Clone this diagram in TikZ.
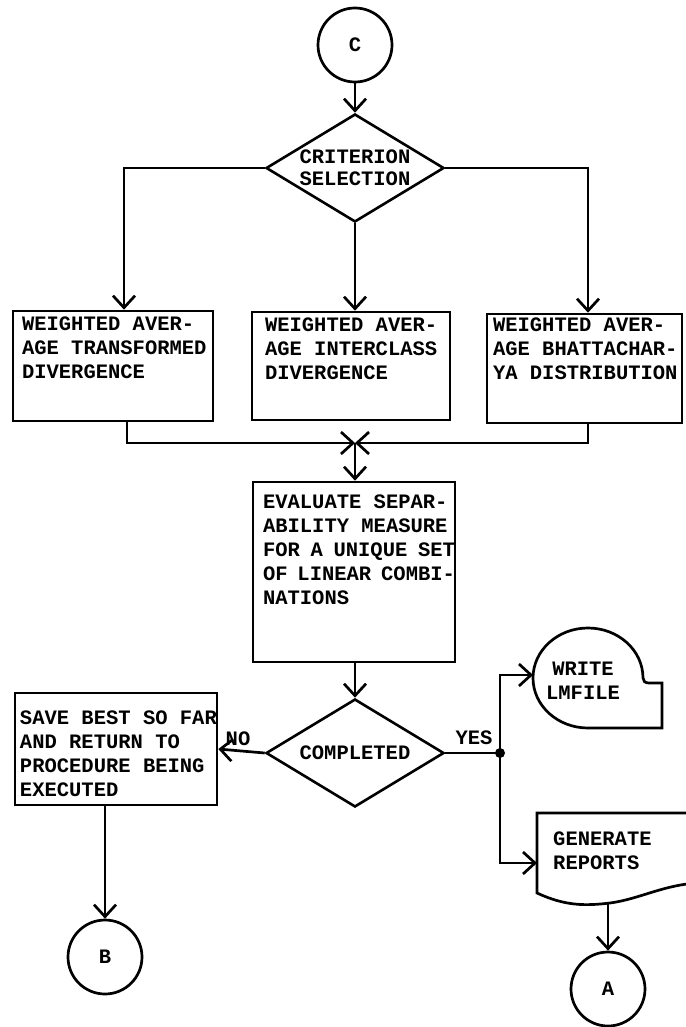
\documentclass[tikz,border=0pt]{standalone}
\usepackage{fontspec}
\newfontfamily\tfont{Liberation Mono}
\usetikzlibrary{shapes.geometric,arrows.meta,calc}
% text block for a process box: width, height, left inset, top inset, lines
\newcommand\boxtext[5]{\parbox[c][#2][t]{#1}{\setlength\baselineskip{24pt}\setlength\leftskip{#3}\vspace*{#4}\noindent #5}}
\begin{document}
\begin{tikzpicture}[x=1pt,y=-1pt,
  every node/.style={font=\tfont\bfseries\fontsize{20.5}{24}\selectfont},
  flow/.style={line width=2.7pt},
  arr/.style={flow,-{Straight Barb[length=12pt,width=22pt]}},
  conn/.style={circle,draw,line width=2.7pt,minimum size=74pt,inner sep=0pt},
  proc/.style={draw,line width=2.6pt,inner sep=0pt},
  decide/.style={diamond,draw,line width=2.6pt,aspect=1.65,minimum width=178pt,
                 minimum height=108pt,inner sep=0pt,align=center,
                 font=\tfont\bfseries\fontsize{20.5}{22}\selectfont},
  lab/.style={inner sep=0pt}]
\useasboundingbox (0,0) rectangle (685,1027);

% connector and decisions
\node[conn] (C) at (355,45) {C};
\node[decide] (crit) at (355,168) {CRITERION\\SELECTION};

% criterion boxes
\node[proc] (lb) at (113,366)
  {\boxtext{200pt}{110pt}{9pt}{6pt}{WEIGHTED AVER-\\AGE TRANSFORMED\\DIVERGENCE}};
\node[proc] (mb) at (351,366)
  {\boxtext{198pt}{108pt}{13pt}{6pt}{WEIGHTED AVER-\\AGE INTERCLASS\\DIVERGENCE}};
\node[proc] (rb) at (584.5,368.5)
  {\boxtext{195pt}{109pt}{6pt}{4pt}{WEIGHTED AVER-\\AGE BHATTACHAR-\\YA DISTRIBUTION}};

\coordinate (j) at (355,443);

\node[proc] (eval) at (354,572)
  {\boxtext{202pt}{180pt}{10pt}{13pt}{EVALUATE SEPAR-\\ABILITY MEASURE\\FOR A UNIQUE SET\\OF LINEAR COMBI-\\NATIONS}};

\node[decide] (comp) at (355,753) {COMPLETED};

\node[proc] (save) at (116,749)
  {\boxtext{202pt}{112pt}{5pt}{18pt}{SAVE BEST SO FAR\\AND RETURN TO\\PROCEDURE BEING\\EXECUTED}};

\node[conn] (B) at (105,957) {B};

% online storage symbol
\draw[flow] (662,728) -- (588,728)
  .. controls (557.6,728) and (533,705.6) .. (533,678)
  .. controls (533,650.4) and (557.6,628) .. (588,628)
  .. controls (618.4,628) and (643,650.4) .. (643,678)
  .. controls (643,681) and (645,683) .. (649,683)
  -- (662,683) -- cycle;
\coordinate (wl) at (533,675);
\node[lab,align=center] (write) at (583,681) {WRITE\\LMFILE};

% document symbol
\draw[flow] (537,813) -- (537,893)
  .. controls (565,906) and (585,906) .. (610,903)
  .. controls (640,899) and (665,884) .. (700,883)
  -- (700,813) -- cycle;
\coordinate (dl) at (537,863);
\coordinate (db) at (608,903);
\node[lab,align=left,anchor=west] (report) at (553,851) {GENERATE\\REPORTS};

\node[conn] (A) at (608,989) {A};

% split point for YES branch
\coordinate (split) at (500,753);

% flow lines
\draw[arr] (C) -- (crit.north);
\draw[arr] (crit.west) -| ([xshift=11pt]lb.north);
\draw[arr] (crit.south) -- (crit.south |- mb.north);
\draw[arr] (crit.east) -| ([xshift=3.5pt]rb.north);

\draw[arr] ([xshift=14pt]lb.south) |- (j);
\draw[arr] ([xshift=3.5pt]rb.south) |- (j);
\draw[arr] (j) -- (j |- eval.north);

\draw[arr] (comp.north |- eval.south) -- (comp.north);
\draw[arr] (comp.west) -- (save.east);
\node[lab] (no) at (238,739) {NO};

\draw[flow] (comp.east) -- (split);
\fill (split) circle (5pt);
\node[lab] (yes) at (474,738) {YES};
\draw[arr] (split) |- (wl);
\draw[arr] (split) |- (dl);

\draw[arr] (B |- save.south) -- (B.north);
\draw[arr] (db) -- (A.north);
\end{tikzpicture}
\end{document}
